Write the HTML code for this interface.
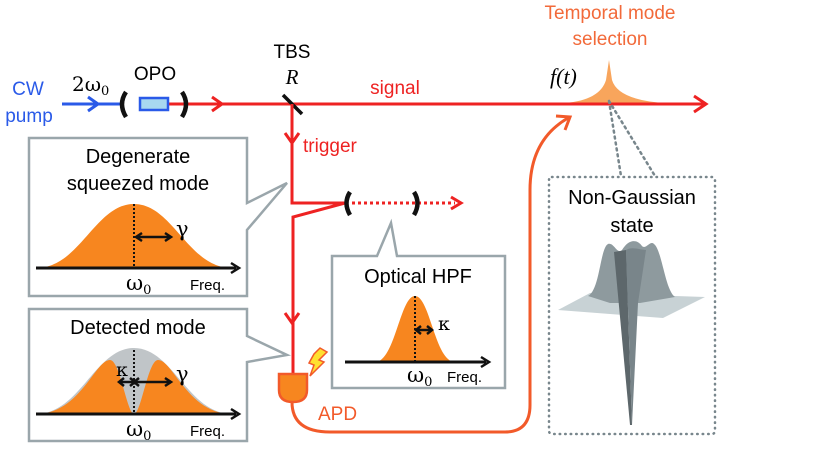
<!DOCTYPE html>
<html><head><meta charset="utf-8"><style>body{margin:0;background:#fff}svg{display:block}text{font-family:"Liberation Sans",sans-serif}.m{font-family:"Liberation Serif",serif;font-style:italic}.g{font-family:"DejaVu Serif","Liberation Serif",serif}</style></head><body>
<svg width="831" height="476" viewBox="0 0 831 476" xmlns="http://www.w3.org/2000/svg">
<!-- labels top -->
<text x="28" y="95" font-size="19" fill="#2a5ae8" text-anchor="middle">CW</text>
<text x="29" y="122" font-size="19" fill="#2a5ae8" text-anchor="middle">pump</text>
<text x="72" y="91" font-size="20" class="g">2ω<tspan font-size="13" dy="4">0</tspan></text>
<text x="155" y="80" font-size="19" text-anchor="middle">OPO</text>
<text x="292" y="58" font-size="19" text-anchor="middle">TBS</text>
<text x="292" y="84" font-size="21" class="m" text-anchor="middle">R</text>
<text x="395" y="94" font-size="19" fill="#ee2222" text-anchor="middle">signal</text>
<text x="303" y="152" font-size="19" fill="#ee2222">trigger</text>
<text x="610" y="19" font-size="19" fill="#f26a3a" text-anchor="middle">Temporal mode</text>
<text x="610" y="45" font-size="19" fill="#f26a3a" text-anchor="middle">selection</text>
<text x="550" y="84" font-size="22" class="m">f(t)</text>
<!-- f(t) bump -->
<path d="M565,103 Q600,100 606,80 L609,60 L612,80 Q618,100 665,103 Z" fill="#f8a55c"/>
<!-- beams -->
<line x1="62" y1="104" x2="122" y2="104" stroke="#2a5ae8" stroke-width="3"/>
<path d="M88,97 L98,104 L88,111" fill="none" stroke="#2a5ae8" stroke-width="3"/>
<line x1="168" y1="104" x2="704" y2="104" stroke="#ee2222" stroke-width="3"/>
<path d="M212,97 L222,104 L212,111" fill="none" stroke="#ee2222" stroke-width="3"/>
<path d="M694,96 L706,104 L694,112" fill="none" stroke="#ee2222" stroke-width="3"/>
<rect x="140" y="98" width="28" height="12" fill="#a8d8f0" stroke="#2a5ae8" stroke-width="2.5"/>
<path d="M126,92 Q118,104 126,117" fill="none" stroke="#111" stroke-width="4.5"/>
<path d="M182,92 Q190,104 182,117" fill="none" stroke="#111" stroke-width="4.5"/>
<line x1="283" y1="95" x2="302" y2="114" stroke="#111" stroke-width="3.5"/>
<!-- trigger -->
<path d="M292,104 L292,203 L345,203 L293,217 L293,392" fill="none" stroke="#ee2222" stroke-width="3"/>
<path d="M285,133 L292,143 L299,133" fill="none" stroke="#ee2222" stroke-width="3"/>
<path d="M285,313 L292,323 L299,313" fill="none" stroke="#ee2222" stroke-width="3"/>
<line x1="352" y1="203" x2="455" y2="203" stroke="#ee2222" stroke-width="3" stroke-dasharray="3,3"/>
<path d="M451,197 L461,203 L451,209" fill="none" stroke="#ee2222" stroke-width="3"/>
<path d="M350,192 Q343,203 350,215" fill="none" stroke="#111" stroke-width="4.5"/>
<path d="M414,192 Q421,203 414,215" fill="none" stroke="#111" stroke-width="4.5"/>
<!-- APD -->
<path d="M292,402 Q292,432 330,432 L505,432 Q530,432 530,405 L530,190 Q530,140 568,118" fill="none" stroke="#f25a2a" stroke-width="3"/>
<path d="M556,116 L570,117 L565,130" fill="none" stroke="#f25a2a" stroke-width="3"/>
<path d="M279,374 L307,374 L307,390 Q307,402 293,402 Q279,402 279,390 Z" fill="#f7861f" stroke="#f25a2a" stroke-width="2.5"/>
<path d="M320,348 L327,352 L319,360 L324,362 L310,376 L314,365 L309,363 L314,354 Z" fill="#ffe030" stroke="#f25a2a" stroke-width="1.5"/>
<text x="318" y="420" font-size="19" fill="#f25a2a">APD</text>
<!-- Degenerate box -->
<path d="M29,138 L247,138 L247,203 L287,183 L247,230 L247,296 L29,296 Z" fill="#fff" stroke="#9aa6ab" stroke-width="2.5"/>
<text x="138" y="163" font-size="20" text-anchor="middle">Degenerate</text>
<text x="138" y="190" font-size="20" text-anchor="middle">squeezed mode</text>
<path d="M36,268 C80,268 95,204 134,204 C173,204 188,268 232,268 Z" fill="#f7861f"/>
<line x1="134" y1="204" x2="134" y2="268" stroke="#111" stroke-width="2" stroke-dasharray="2,2"/>
<line x1="36" y1="268" x2="236" y2="268" stroke="#111" stroke-width="3"/>
<path d="M231,263 L239,268 L231,273" fill="none" stroke="#111" stroke-width="2.5"/>
<line x1="137" y1="237" x2="170" y2="237" stroke="#111" stroke-width="2.5"/>
<path d="M142,233 L136,237 L142,241 M165,233 L171,237 L165,241" fill="none" stroke="#111" stroke-width="2.5"/>
<text x="176" y="236" font-size="21" class="g">γ</text>
<text x="126" y="290" font-size="21" class="g">ω<tspan font-size="13" dy="4">0</tspan></text>
<text x="190" y="290" font-size="15">Freq.</text>
<!-- Detected box -->
<path d="M29,309 L247,309 L247,336 L287,355 L247,362 L247,441 L29,441 Z" fill="#fff" stroke="#9aa6ab" stroke-width="2.5"/>
<text x="138" y="334" font-size="20" text-anchor="middle">Detected mode</text>
<path d="M36,414 C80,414 95,348 134,348 C173,348 188,414 232,414 Z" fill="#c0c5c8"/>
<path d="M36,414 C80,414 95,360 110,360 C120,360 127,414 134,414 C141,414 148,360 158,360 C173,360 188,414 232,414 Z" fill="#f7861f"/>
<line x1="134" y1="350" x2="134" y2="414" stroke="#111" stroke-width="2" stroke-dasharray="2,2"/>
<line x1="36" y1="414" x2="236" y2="414" stroke="#111" stroke-width="3"/>
<path d="M231,409 L239,414 L231,419" fill="none" stroke="#111" stroke-width="2.5"/>
<line x1="120" y1="382" x2="170" y2="382" stroke="#111" stroke-width="2.5"/>
<path d="M124,378 L119,382 L124,386 M130,378 L135,382 L130,386 M139,378 L134,382 L139,386 M165,378 L171,382 L165,386" fill="none" stroke="#111" stroke-width="2.5"/>
<text x="116" y="376" font-size="19" class="g">κ</text>
<text x="176" y="381" font-size="21" class="g">γ</text>
<text x="126" y="436" font-size="21" class="g">ω<tspan font-size="13" dy="4">0</tspan></text>
<text x="190" y="436" font-size="15">Freq.</text>
<!-- HPF box -->
<path d="M332,256 L377,256 L391,223 L397,256 L505,256 L505,388 L332,388 Z" fill="#fff" stroke="#9aa6ab" stroke-width="2.5"/>
<text x="418" y="283" font-size="20" text-anchor="middle">Optical HPF</text>
<path d="M375,362 C395,362 400,296 415,296 C430,296 435,362 455,362 Z" fill="#f7861f"/>
<line x1="415" y1="296" x2="415" y2="362" stroke="#111" stroke-width="2" stroke-dasharray="2,2"/>
<line x1="345" y1="362" x2="486" y2="362" stroke="#111" stroke-width="3"/>
<path d="M481,357 L489,362 L481,367" fill="none" stroke="#111" stroke-width="2.5"/>
<line x1="417" y1="330" x2="431" y2="330" stroke="#111" stroke-width="2.5"/>
<path d="M421,326 L416,330 L421,334 M427,326 L432,330 L427,334" fill="none" stroke="#111" stroke-width="2.5"/>
<text x="438" y="330" font-size="19" class="g">κ</text>
<text x="407" y="382" font-size="21" class="g">ω<tspan font-size="13" dy="4">0</tspan></text>
<text x="447" y="382" font-size="15">Freq.</text>
<!-- Non-Gaussian -->
<path d="M609,101 L621,176 M609,101 L655,176" stroke="#78868c" stroke-width="2.5" stroke-dasharray="2,4" stroke-linecap="round" fill="none"/>
<rect x="549" y="177" width="166" height="257" rx="3" fill="none" stroke="#78868c" stroke-width="2.5" stroke-dasharray="0.5,5" stroke-linecap="round"/>
<text x="632" y="204" font-size="20" text-anchor="middle">Non-Gaussian</text>
<text x="632" y="232" font-size="20" text-anchor="middle">state</text>
<path d="M558,310 L590,293 L705,297 L663,318 Z" fill="#c8d2d5"/>
<path d="M588,296 C600,290 600,248 608,244 C614,242 617,255 622,250 C628,240 636,238 642,246 C646,250 650,240 654,244 C662,250 665,290 675,297 L640,303 L610,303 Z" fill="#8e9a9e"/>
<path d="M614,252 L626,250 L632,425 L630,425 Z" fill="#5d676b"/>
<path d="M626,250 C632,246 640,250 646,250 L638,303 L632,425 Z" fill="#79858a"/>
</svg>
</body></html>
